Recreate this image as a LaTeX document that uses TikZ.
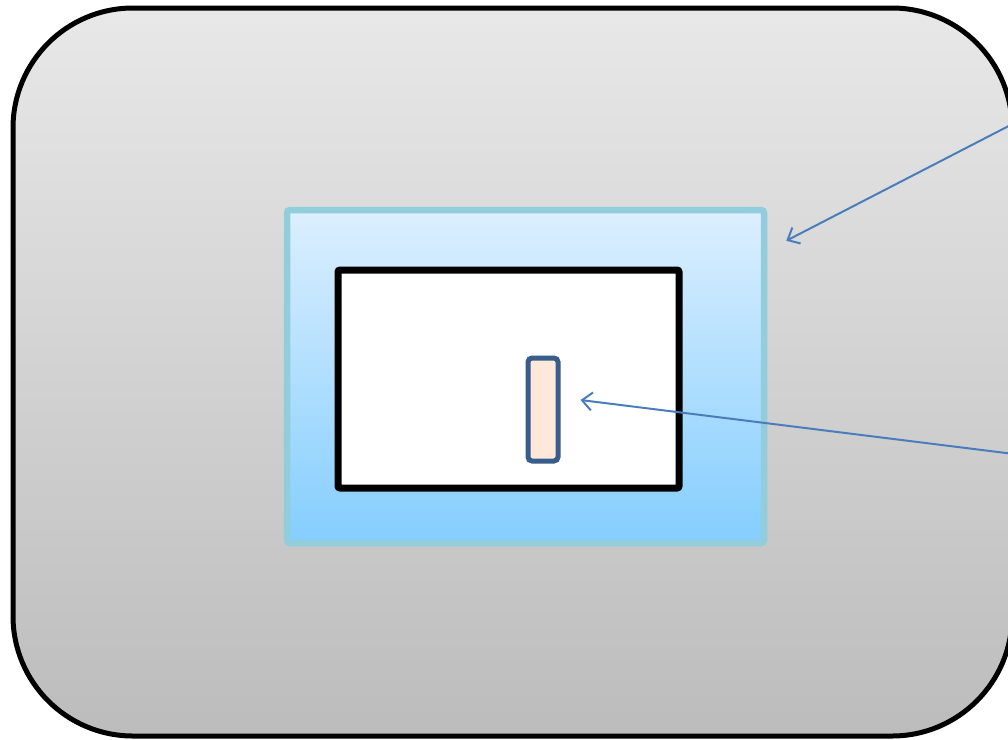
\documentclass[tikz,border=0pt]{standalone}
\usepackage{tikz}
\usetikzlibrary{arrows.meta}
\definecolor{grishaut}{RGB}{232,232,232}
\definecolor{grisbas}{RGB}{188,188,188}
\definecolor{bleuhaut}{RGB}{220,239,254}
\definecolor{bleubas}{RGB}{132,206,254}
\definecolor{bleubord}{RGB}{146,205,220}
\definecolor{peche}{RGB}{253,233,217}
\definecolor{bleufonce}{RGB}{56,93,138}
\definecolor{fleche}{RGB}{74,126,187}
\begin{document}
\begin{tikzpicture}[x=1pt,y=-1pt]
\tikzset{cadre/.style={draw,line width=5pt,rounded corners=120pt,inner sep=0pt,
top color=grishaut,bottom color=grisbas},
fenetre/.style={draw=bleubord,line width=6.5pt,rounded corners=3pt,inner sep=0pt,
top color=bleuhaut,bottom color=bleubas},
ecran/.style={draw,line width=7pt,rounded corners=2pt,inner sep=0pt,fill=white},
curseur/.style={draw=bleufonce,line width=5pt,rounded corners=4pt,inner sep=0pt,fill=peche},
lien/.style={-{Straight Barb[length=10pt,width=18pt,line width=2pt]},draw=fleche,line width=2pt}}
\useasboundingbox (0,0) rectangle (1008,739);
\clip (0,0) rectangle (1008,739);
\node[cadre,minimum width=999pt,minimum height=728pt] (A) at (512.5,372){};
\node[fenetre,minimum width=477pt,minimum height=333pt] (B) at (525.5,376.5){};
\node[ecran,minimum width=341pt,minimum height=218pt] (C) at (508.5,379){};
\node[curseur,minimum width=30pt,minimum height=103pt] (D) at (543,409.5){};

\coordinate (E) at (1030,115);
\coordinate (F) at (1030,456);
\coordinate (G) at ([shift={(19,34)}]B.north east);
\coordinate (H) at ([shift={(20,-9.5)}]D.east);

\draw[lien] (E) -- (G);
\draw[lien] (F) -- (H);
\end{tikzpicture}
\end{document}
